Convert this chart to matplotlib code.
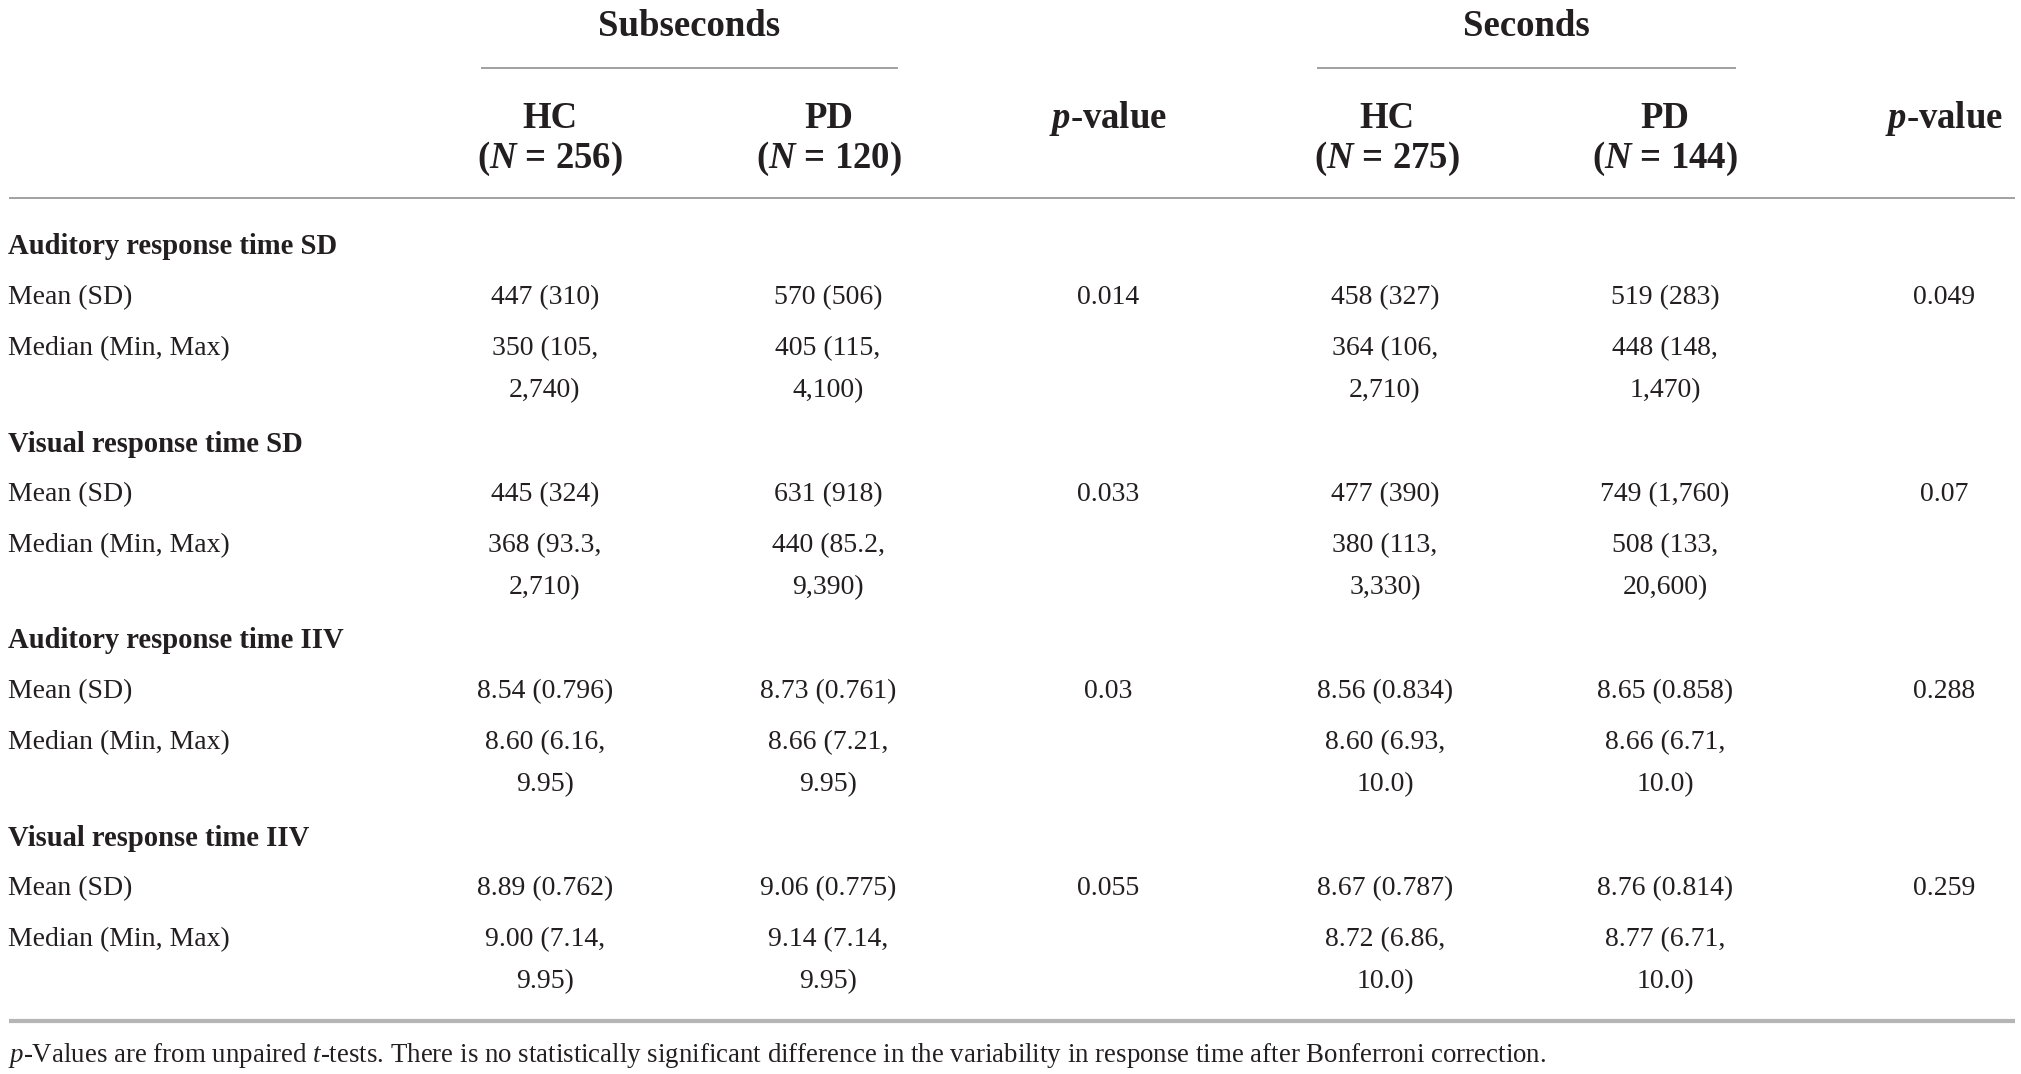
import matplotlib
matplotlib.use("Agg")
import matplotlib.pyplot as plt

plt.rcParams['font.family'] = ['Liberation Serif', 'DejaVu Serif']
plt.rcParams['mathtext.fontset'] = 'custom'
plt.rcParams['mathtext.rm'] = 'Liberation Serif'
plt.rcParams['mathtext.it'] = 'Liberation Serif:italic'
plt.rcParams['mathtext.bf'] = 'Liberation Serif:bold'
plt.rcParams['mathtext.bfit'] = 'Liberation Serif:bold:italic'

# ---------------- data ----------------
span_headers = ["Subseconds", "Seconds"]
col_headers = ["HC", "PD", "$\\mathbfit{p}$-value", "HC", "PD", "$\\mathbfit{p}$-value"]
col_n = ["($\\mathbfit{N}$ = 256)", "($\\mathbfit{N}$ = 120)", "",
         "($\\mathbfit{N}$ = 275)", "($\\mathbfit{N}$ = 144)", ""]

groups = ["Auditory response time SD", "Visual response time SD",
          "Auditory response time IIV", "Visual response time IIV"]
stat_labels = ["Mean (SD)", "Median (Min, Max)"]

mean_sub_hc = ["447 (310)", "445 (324)", "8.54 (0.796)", "8.89 (0.762)"]
mean_sub_pd = ["570 (506)", "631 (918)", "8.73 (0.761)", "9.06 (0.775)"]
p_sub = ["0.014", "0.033", "0.03", "0.055"]
mean_sec_hc = ["458 (327)", "477 (390)", "8.56 (0.834)", "8.67 (0.787)"]
mean_sec_pd = ["519 (283)", "749 (1,760)", "8.65 (0.858)", "8.76 (0.814)"]
p_sec = ["0.049", "0.07", "0.288", "0.259"]

median_sub_hc = [("350 (105,", "2,740)"), ("368 (93.3,", "2,710)"),
                 ("8.60 (6.16,", "9.95)"), ("9.00 (7.14,", "9.95)")]
median_sub_pd = [("405 (115,", "4,100)"), ("440 (85.2,", "9,390)"),
                 ("8.66 (7.21,", "9.95)"), ("9.14 (7.14,", "9.95)")]
median_sec_hc = [("364 (106,", "2,710)"), ("380 (113,", "3,330)"),
                 ("8.60 (6.93,", "10.0)"), ("8.72 (6.86,", "10.0)")]
median_sec_pd = [("448 (148,", "1,470)"), ("508 (133,", "20,600)"),
                 ("8.66 (6.71,", "10.0)"), ("8.77 (6.71,", "10.0)")]

footnote = ("$\\it{p}$-Values are from unpaired $\\it{t}$-tests. There is no statistically "
            "significant difference in the variability in response time after Bonferroni correction.")

# ---------------- layout ----------------
W, H = 2021, 1074
fig = plt.figure(figsize=(W / 100, H / 100), dpi=100)
ax = fig.add_axes([0, 0, 1, 1])
ax.set_xlim(0, W)
ax.set_ylim(H, 0)
ax.axis('off')

txt = '#231f20'
line_c = '#9a9a9a'
fs = 20
gfs = 20.6
hfs = 26.5
ffs = 19.4

head_x = [550, 829, 1108, 1387, 1665, 1944]
data_x = [545, 828, 1108, 1385, 1665, 1944]
span_x = [(481, 898), (1317, 1736)]

# span headers
for (x0, x1), name in zip(span_x, span_headers):
    ax.text((x0 + x1) / 2, 26, name, ha='center', va='center', fontsize=hfs,
            fontweight='bold', color=txt)
    ax.plot([x0, x1], [68, 68], color=line_c, lw=1.3, solid_capstyle='butt')

for x, h, n in zip(head_x, col_headers, col_n):
    ax.text(x, 118, h, ha='center', va='center', fontsize=hfs, fontweight='bold', color=txt)
    if n:
        ax.text(x, 159, n, ha='center', va='center', fontsize=hfs, fontweight='bold', color=txt)

ax.plot([9, 2015], [198, 198], color=line_c, lw=1.3, solid_capstyle='butt')

group_y = [247, 444, 641, 838]
row_step = 50.5
cont_step = 41.5
lab_x = 8

for gi, g in enumerate(groups):
    y0 = group_y[gi]
    ax.text(lab_x, y0, g, ha='left', va='center', fontsize=gfs, fontweight='bold', color=txt)
    ym = y0 + row_step
    yd = ym + 51.5
    ax.text(lab_x, ym, stat_labels[0], ha='left', va='center', fontsize=fs, color=txt)
    ax.text(lab_x, yd, stat_labels[1], ha='left', va='center', fontsize=fs, color=txt)
    means = [mean_sub_hc[gi], mean_sub_pd[gi], p_sub[gi],
             mean_sec_hc[gi], mean_sec_pd[gi], p_sec[gi]]
    for x, v in zip(data_x, means):
        ax.text(x, ym, v, ha='center', va='center', fontsize=fs, color=txt)
    meds = [median_sub_hc[gi], median_sub_pd[gi], None,
            median_sec_hc[gi], median_sec_pd[gi], None]
    for x, m in zip(data_x, meds):
        if m is None:
            continue
        ax.text(x, yd, m[0], ha='center', va='center', fontsize=fs, color=txt)
        ax.text(x, yd + cont_step, m[1], ha='center', va='center', fontsize=fs, color=txt)

ax.plot([9, 2015], [1021, 1021], color='#b5b5b5', lw=3, solid_capstyle='butt')
ax.text(lab_x, 1056, footnote, ha='left', va='center', fontsize=ffs, color=txt)

fig.savefig('out.png', dpi=100, facecolor='white')
